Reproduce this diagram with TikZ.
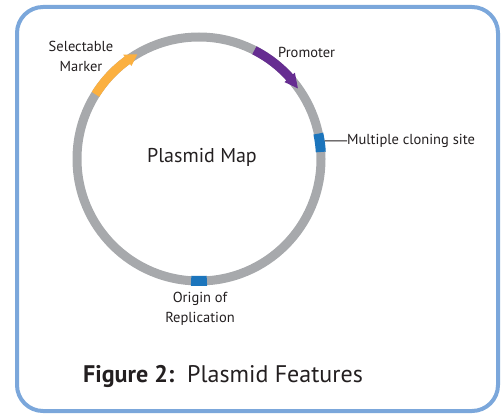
\documentclass[tikz,border=0pt]{standalone}
\usepackage{fontspec}
\setmainfont{PT Sans}
\definecolor{ringgray}{HTML}{A7A9AC}
\definecolor{markorange}{HTML}{FBB040}
\definecolor{promopurple}{HTML}{662D91}
\definecolor{siteblue}{HTML}{1C75BC}
\definecolor{framblue}{HTML}{7BA7DB}
\definecolor{txt}{HTML}{231F20}
\tikzset{
  lbl/.style={text=txt, font=\fontsize{14.5}{20}\selectfont, inner sep=0pt, align=center},
  seg/.style={line width=9pt},
}
\begin{document}
\begin{tikzpicture}[x=1pt,y=1pt]
\useasboundingbox (0,0) rectangle (501,413);
% frame
\draw[framblue, line width=4pt, rounded corners=26pt] (17,2) rectangle (498,406);
% ring
\coordinate (c) at (199,254);
\draw[ringgray, seg] (c) circle[radius=122];
% selectable marker
\draw[markorange, seg] ([shift={(148:122)}]c) arc[start angle=148, end angle=125, radius=122];
\fill[markorange] ([shift={(126:115)}]c) -- ([shift={(120.5:121.5)}]c) -- ([shift={(126:129)}]c) -- cycle;
% promoter
\draw[promopurple, seg] ([shift={(63:122)}]c) arc[start angle=63, end angle=41, radius=122];
\fill[promopurple] ([shift={(42:115)}]c) -- ([shift={(35.5:121.5)}]c) -- ([shift={(42:129)}]c) -- cycle;
% MCS
\draw[siteblue, line width=10pt] ([shift={(3.3:122)}]c) arc[start angle=3.3, end angle=12, radius=122];
% origin
\draw[siteblue, line width=10pt] ([shift={(-86.3:122)}]c) arc[start angle=-86.3, end angle=-93.7, radius=122];
% labels
\node[lbl] (sm) at (81,357) {Selectable\\Marker};
\node[lbl, anchor=west] (pr) at (278,361) {Promoter};
\coordinate (mcsin) at ([shift={(8.2:127)}]c);
\node[lbl, anchor=west] (mcs) at (347,272) {Multiple cloning site};
\draw[txt, line width=1pt] (mcsin) -- (mcs.west);
\node[lbl] (ori) at (200,104) {Origin of\\Replication};
\node[text=txt, font=\fontsize{20}{22}\selectfont, inner sep=0pt] (pm) at (202,256) {Plasmid Map};
\node[text=txt, font=\fontsize{24}{26}\selectfont, inner sep=0pt, anchor=west] (cap) at (83,37) {\textbf{Figure 2:}\ \ Plasmid Features};
\end{tikzpicture}
\end{document}
